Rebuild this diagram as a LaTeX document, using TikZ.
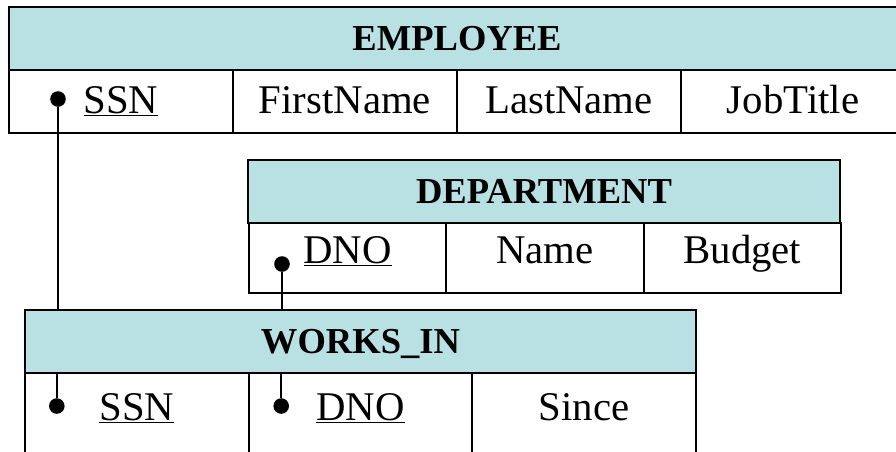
\documentclass[tikz,border=0pt]{standalone}
\usepackage{fontspec}
\setmainfont{Liberation Serif}
\definecolor{hdrteal}{RGB}{185,224,227}

\begin{document}
\begin{tikzpicture}[
        % table header style
        hdr/.style={draw, line width=1.4pt, fill=hdrteal, outer sep=0pt, minimum height=1.575cm,
            text height=0.6cm, text depth=0pt, font=\fontsize{26}{31}\selectfont\bfseries},
        % attribute cell style
        cell/.style={draw, line width=1.4pt, anchor=north, outer sep=0pt, inner ysep=0pt,
            font=\fontsize{29}{34}\selectfont},
        % key dot and link line
        dot/.style={circle, fill=black, inner sep=0pt, minimum size=0.39cm},
        link/.style={line width=1.4pt}
    ]

    \useasboundingbox (0,0) rectangle (22.4,-11.275);
    \clip (0,0) rectangle (22.4,-11.275);

    % EMPLOYEE
    \node[hdr, minimum width=22.4cm] (emphdr) at (11.425,-0.9625) {EMPLOYEE};
    \node[cell, minimum width=5.6cm, text height=1.075cm, text depth=0.5cm] (essn) at (3.025,-1.75) {\underline{SSN}};
    \node[cell, minimum width=5.6cm, text height=1.075cm, text depth=0.5cm] (efirst) at (8.625,-1.75) {FirstName};
    \node[cell, minimum width=5.6cm, text height=1.075cm, text depth=0.5cm] (elast) at (14.225,-1.75) {LastName};
    \node[cell, minimum width=5.6cm, text height=1.075cm, text depth=0.5cm] (ejob) at (19.825,-1.75) {JobTitle};

    % DEPARTMENT
    \node[hdr, minimum width=14.8cm] (dephdr) at (13.6,-4.7875) {DEPARTMENT};
    \node[cell, minimum width=4.933cm, text height=1.0cm, text depth=0.75cm] (ddno) at (8.692,-5.575) {\underline{DNO}};
    \node[cell, minimum width=4.933cm, text height=1.0cm, text depth=0.75cm] (dname) at (13.625,-5.575) {Name};
    \node[cell, minimum width=4.933cm, text height=1.0cm, text depth=0.75cm] (dbudget) at (18.558,-5.575) {Budget};

    % WORKS_IN
    \node[hdr, minimum width=16.775cm] (wkhdr) at (9.0125,-8.5375) {WORKS\_IN};
    \node[cell, minimum width=5.592cm, text height=1.175cm, text depth=1.5cm] (wssn) at (3.421,-9.325) {\underline{SSN}};
    \node[cell, minimum width=5.592cm, text height=1.175cm, text depth=1.5cm] (wdno) at (9.0125,-9.325) {\underline{DNO}};
    \node[cell, minimum width=5.592cm, text height=1.175cm, text depth=1.5cm] (wsince) at (14.604,-9.325) {Since};

    % key dots
    \node[dot] (essndot) at (1.45,-2.475) {};
    \node[dot] (ddnodot) at (7.05,-6.6) {};
    \node[dot] (wssndot) at (1.42,-10.15) {};
    \node[dot] (wdnodot) at (7.03,-10.15) {};

    % links
    \draw[link] (essndot) -- (essndot |- wkhdr.north);
    \draw[link] (wssndot) -- (wssndot |- wkhdr.south);
    \draw[link] (ddnodot) -- (ddnodot |- wkhdr.north);
    \draw[link] (wdnodot) -- (wdnodot |- wkhdr.south);

\end{tikzpicture}
\end{document}
